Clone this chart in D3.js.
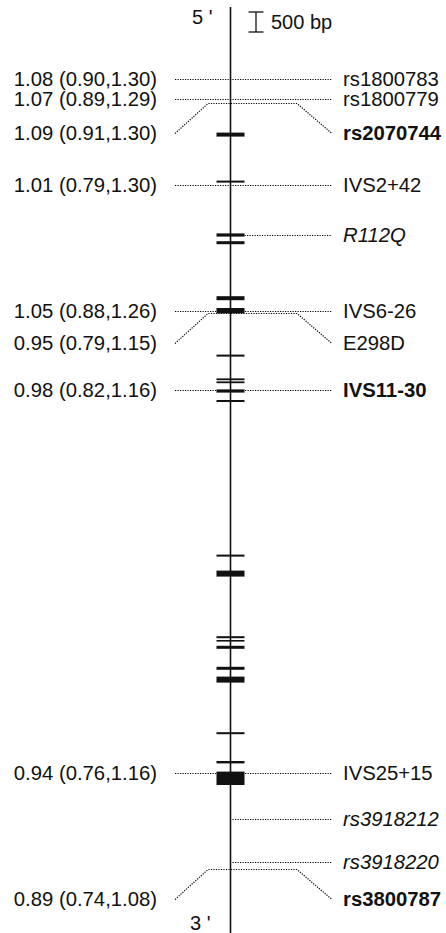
<!DOCTYPE html>
<html>
<head>
<meta charset="utf-8">
<script src="https://cdn.jsdelivr.net/npm/d3@7"></script>
<style>
  body { margin: 0; background: #fff; }
  svg text { font-family: "Liberation Sans", Arial, sans-serif; fill: #111; }
</style>
</head>
<body>
<svg id="gene" width="446" height="933"></svg>
<script>
// gene length in bp, the line runs the full height
const geneLength = 23150;
const scaleBarBp = 500;

// exons, start/end in bp from the top of the line
const exonStart = [3140, 4340, 5660, 5855, 7230, 7525, 8690, 9285, 9360, 9560, 9825,
  13690, 14090, 15730, 15825, 15970, 16495, 16740, 18130, 18850, 19115];
const exonEnd = [3240, 4390, 5740, 5930, 7330, 7660, 8740, 9330, 9405, 9640, 9875,
  13740, 14240, 15780, 15860, 16045, 16570, 16890, 18180, 18910, 19450];

// SNPs
const snpNames = ["rs1800783", "rs1800779", "rs2070744", "IVS2+42", "R112Q", "IVS6-26",
  "E298D", "IVS11-30", "IVS25+15", "rs3918212", "rs3918220", "rs3800787"];
const snpPos = [1800, 2300, 2400, 4450, 5700, 7600, 7650, 9575, 19150, 20300, 21375, 21550];
const orEst = [1.08, 1.07, 1.09, 1.01, null, 1.05, 0.95, 0.98, 0.94, null, null, 0.89];
const orLow = [0.90, 0.89, 0.91, 0.79, null, 0.88, 0.79, 0.82, 0.76, null, null, 0.74];
const orHigh = [1.30, 1.29, 1.30, 1.30, null, 1.26, 1.15, 1.16, 1.16, null, null, 1.08];

// layout / style (not data)
const boldSnps = ["rs2070744", "IVS11-30", "rs3800787"];
const italicSnps = ["R112Q", "rs3918212", "rs3918220"];
const shiftedSnps = ["rs2070744", "E298D", "rs3800787"];

const svg = d3.select("#gene");
const lineX = 230.5;
const exonHalf = 14;
const leftDot = 175, rightDot = 332;
const leftText = 157, rightText = 343;
const fontSize = 20.3;

const y = d3.scaleLinear().domain([0, geneLength]).range([7, 933]);
const fmt = d3.format(".2f");

// gene line
svg.append("line")
  .attr("x1", lineX).attr("x2", lineX)
  .attr("y1", y(0)).attr("y2", y(geneLength))
  .attr("stroke", "#111").attr("stroke-width", 1.6);

const snps = snpNames.map((name, i) => ({
  name: name,
  pos: snpPos[i],
  or: orEst[i],
  lo: orLow[i],
  hi: orHigh[i],
}));

const dotted = (sel) => sel
  .attr("fill", "none")
  .attr("stroke", "#000")
  .attr("stroke-width", 1.2)
  .attr("stroke-dasharray", "1.2,1.3");

// dotted leader lines
snps.forEach((d) => {
  const yy = Math.round(y(d.pos)) + 0.5;
  if (shiftedSnps.includes(d.name)) {
    const ly = yy + 30;
    svg.append("path")
      .attr("d", `M${leftDot},${ly}L${208},${yy}L${297},${yy}L${rightDot},${ly}`)
      .call(dotted);
  } else {
    let x0 = leftDot;
    if (d.or === null) {
      // starts right of whatever it sits on
      const onExon = exonStart.some((s, i) => d.pos >= s - 60 && d.pos <= exonEnd[i] + 60);
      x0 = onExon ? lineX + exonHalf : lineX + 2;
    }
    svg.append("line")
      .attr("x1", x0).attr("x2", rightDot)
      .attr("y1", yy).attr("y2", yy)
      .call(dotted);
  }
});

// exons
svg.selectAll("rect.exon")
  .data(exonStart.map((s, i) => [s, exonEnd[i]]))
  .enter()
  .append("rect")
  .attr("class", "exon")
  .attr("x", lineX - exonHalf)
  .attr("width", exonHalf * 2)
  .attr("y", (d) => y(d[0]))
  .attr("height", (d) => Math.max(1.6, y(d[1]) - y(d[0])))
  .attr("fill", "#111");

// labels
const labelY = (d) => y(d.pos) + (shiftedSnps.includes(d.name) ? 30 : 0);

svg.selectAll("text.snp")
  .data(snps)
  .enter()
  .append("text")
  .attr("class", "snp")
  .attr("x", rightText)
  .attr("y", labelY)
  .attr("dy", "0.36em")
  .attr("font-size", fontSize)
  .attr("font-weight", (d) => boldSnps.includes(d.name) ? "bold" : "normal")
  .attr("font-style", (d) => italicSnps.includes(d.name) ? "italic" : "normal")
  .text((d) => d.name);

svg.selectAll("text.or")
  .data(snps.filter((d) => d.or !== null))
  .enter()
  .append("text")
  .attr("class", "or")
  .attr("x", leftText)
  .attr("y", labelY)
  .attr("dy", "0.36em")
  .attr("text-anchor", "end")
  .attr("font-size", fontSize)
  .text((d) => `${fmt(d.or)} (${fmt(d.lo)},${fmt(d.hi)})`);

// 5' / 3' ends
svg.append("text").attr("x", 192).attr("y", 17).attr("dy", "0.36em")
  .attr("font-size", 20).text("5 '");
svg.append("text").attr("x", 190).attr("y", 923).attr("dy", "0.36em")
  .attr("font-size", 20).text("3 '");

// scale bar
const sb = svg.append("g").attr("stroke", "#111").attr("stroke-width", 1.3);
const sbTop = 12, sbBot = sbTop + (y(scaleBarBp) - y(0));
sb.append("line").attr("x1", 256).attr("x2", 256).attr("y1", sbTop).attr("y2", sbBot);
sb.append("line").attr("x1", 248.5).attr("x2", 263.5).attr("y1", sbTop).attr("y2", sbTop);
sb.append("line").attr("x1", 248.5).attr("x2", 263.5).attr("y1", sbBot).attr("y2", sbBot);
svg.append("text").attr("x", 271).attr("y", (sbTop + sbBot) / 2).attr("dy", "0.36em")
  .attr("font-size", 20).text(scaleBarBp + " bp");
</script>
</body>
</html>
